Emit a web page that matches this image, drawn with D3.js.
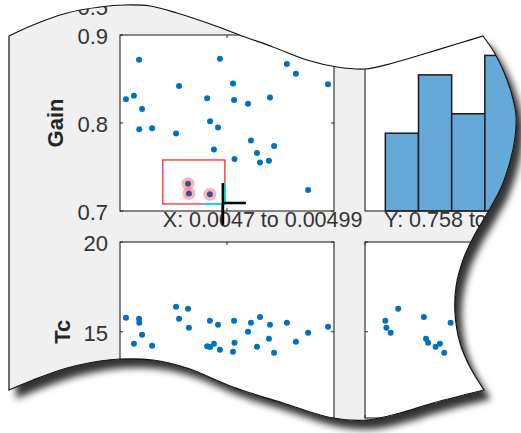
<!DOCTYPE html>
<html><head><meta charset="utf-8">
<script src="https://cdn.jsdelivr.net/npm/d3@7"></script>
<style>
html,body{margin:0;padding:0;background:#fff;}
svg{display:block;}
text{font-family:"Liberation Sans",Arial,Helvetica,sans-serif;}
</style>
</head><body><div id="chart"></div>
<script>
// ---------------- data ----------------
const xVals = [0.004528,0.004565,0.004589,0.004590,0.004603,0.004650,0.004762,0.004776,0.004818,0.004822,
               0.004907,0.004921,0.004920,0.004939,0.004958,0.004967,0.005028,0.005033,0.005035,0.005098,
               0.005112,0.005140,0.005154,0.005201,0.005196,0.005220,0.005280,0.005322,0.005379,0.005472];
const gainVals = [0.827,0.831,0.872,0.793,0.816,0.794,0.788,0.842,0.731,0.720,
                  0.828,0.802,0.719,0.770,0.795,0.873,0.845,0.826,0.759,0.822,
                  0.780,0.766,0.755,0.829,0.757,0.774,0.867,0.856,0.724,0.844];
const tcVals = [15.78,14.33,15.72,15.50,14.83,14.22,16.39,15.72,16.28,15.22,
                14.20,14.15,15.61,14.33,15.39,14.00,13.89,15.61,14.39,15.00,
                15.50,14.17,15.83,15.39,14.61,13.83,15.50,14.44,14.94,15.28];
const xDomain = [0.0045, 0.0055];
const gainDomain = [0.7, 0.9];
const tcDomain = [10.2, 20];
const gainTicks = [0.7, 0.8, 0.9];
const gainTickLabels = ["0.7", "0.8", "0.9"];
const tcTicks = [15, 20];
const tcTickLabels = ["15", "20"];
const xTicks = [0.005];
const histEdges = [0.719, 0.750, 0.781, 0.812, 0.843, 0.874];
const histCountMax = 9.05;
const rowLabels = ["Gain", "Tc"];
const selX = [0.0047, 0.00499];
const selY = [0.708, 0.758];
const cursorTexts = ["X: 0.0047 to 0.00499", "Y: 0.758 to 0.708"];
const aboveTickLabel = "0.5";

// ---------------- layout ----------------
const W = 521, H = 433;
const colX = [120, 365], colW = 214;
const rowY = [35, 242], rowH = 176;
const blue = "#0072BD", ink = "#262626";

const svg = d3.select("#chart").append("svg").attr("width", W).attr("height", H);
svg.append("rect").attr("width", W).attr("height", H).attr("fill", "#fff");
const defs = svg.append("defs");

// torn-edge outline (decoration)
const topEdge = [[9,36],[33,25],[67,13],[100,7],[125,5],[150,6],[177,13],[213,25],[245,37],[273,47],[307,60],[337,67],[365,69],[393,63],[427,53],[460,43],[483,36]];
const rightEdge = [[483,36],[494,52],[504,72],[512,95],[516,115],[515,138],[510,162],[501,188],[488,212],[474,236],[463,260],[456,287],[455,313],[460,343],[470,367],[484,390]];
const bottomEdge = [[484,390],[433,403],[400,413],[367,420],[333,418],[283,403],[233,387],[187,368],[153,360],[120,359],[100,361],[67,368],[33,380],[9,390]];
const lg = d3.line().curve(d3.curveCatmullRom.alpha(0.5));
const outlineD = lg(topEdge) + lg(rightEdge).replace(/^M/, "L") + lg(bottomEdge).replace(/^M/, "L") + "Z";

defs.append("clipPath").attr("id", "tear").append("path").attr("d", outlineD);
const f = defs.append("filter").attr("id", "shadow").attr("x", "-10%").attr("y", "-10%").attr("width", "130%").attr("height", "130%");
f.append("feGaussianBlur").attr("in", "SourceAlpha").attr("stdDeviation", 3.5).attr("result", "bl");
f.append("feOffset").attr("in", "bl").attr("dx", 7).attr("dy", 9).attr("result", "off");
f.append("feFlood").attr("flood-color", "#000").attr("flood-opacity", 0.8).attr("result", "fl");
f.append("feComposite").attr("in", "fl").attr("in2", "off").attr("operator", "in").attr("result", "sh");
const fm = f.append("feMerge");
fm.append("feMergeNode").attr("in", "sh");
fm.append("feMergeNode").attr("in", "SourceGraphic");

svg.append("path").attr("d", outlineD).attr("fill", "#f0f0f0").attr("filter", "url(#shadow)");

const g = svg.append("g").attr("clip-path", "url(#tear)");

// scales
const xS = d3.scaleLinear().domain(xDomain).range([colX[0], colX[0] + colW]);
const gainXS = d3.scaleLinear().domain(gainDomain).range([colX[1], colX[1] + colW]);
const gainYS = d3.scaleLinear().domain(gainDomain).range([rowY[0] + rowH, rowY[0]]);
const tcYS = d3.scaleLinear().domain(tcDomain).range([rowY[1] + rowH, rowY[1]]);
const histYS = d3.scaleLinear().domain([0, histCountMax]).range([rowY[0] + rowH, rowY[0]]);

const data = xVals.map((x, i) => ({x, gain: gainVals[i], tc: tcVals[i]}));
data.forEach(d => { d.sel = d.x >= selX[0] && d.x <= selX[1] && d.gain >= selY[0] && d.gain <= selY[1]; });

function panel(x, y) {
  g.append("rect").attr("x", x).attr("y", y).attr("width", colW).attr("height", rowH)
    .attr("fill", "#fff");
}
function frame(x, y) {
  g.append("rect").attr("x", x).attr("y", y).attr("width", colW).attr("height", rowH)
    .attr("fill", "none").attr("stroke", ink).attr("stroke-width", 1.1);
}
function innerTicks(x, y, xs, xt, ys, yt) {
  const t = g.append("g").attr("stroke", ink).attr("stroke-width", 1);
  if (xs) xt.forEach(v => {
    t.append("line").attr("x1", xs(v)).attr("x2", xs(v)).attr("y1", y + rowH).attr("y2", y + rowH - 3);
    t.append("line").attr("x1", xs(v)).attr("x2", xs(v)).attr("y1", y).attr("y2", y + 3);
  });
  if (ys) yt.forEach(v => {
    t.append("line").attr("x1", x).attr("x2", x + 3).attr("y1", ys(v)).attr("y2", ys(v));
    t.append("line").attr("x1", x + colW).attr("x2", x + colW - 3).attr("y1", ys(v)).attr("y2", ys(v));
  });
}

// panels
panel(colX[0], rowY[0]); panel(colX[1], rowY[0]); panel(colX[0], rowY[1]); panel(colX[1], rowY[1]);

// top-left: Gain vs X
g.append("g").selectAll("circle").data(data.filter(d => !d.sel)).join("circle")
  .attr("cx", d => xS(d.x)).attr("cy", d => gainYS(d.gain)).attr("r", 3).attr("fill", blue);
const sg = g.append("g");
sg.selectAll("circle.h").data(data.filter(d => d.sel)).join("circle").attr("class", "h")
  .attr("cx", d => xS(d.x)).attr("cy", d => gainYS(d.gain)).attr("r", 6.5)
  .attr("fill", "#f0606a").attr("fill-opacity", 0.45);
sg.selectAll("circle.c").data(data.filter(d => d.sel)).join("circle").attr("class", "c")
  .attr("cx", d => xS(d.x)).attr("cy", d => gainYS(d.gain)).attr("r", 3).attr("fill", "#4b4a8c");

// brush rectangle
const bx0 = xS(selX[0]), bx1 = xS(selX[1]), by0 = gainYS(selY[1]), by1 = gainYS(selY[0]);
g.append("rect").attr("x", bx0).attr("y", by0).attr("width", bx1 - bx0).attr("height", by1 - by0)
  .attr("fill", "none").attr("stroke", "#ff2a2a").attr("stroke-width", 1.3);
g.append("path").attr("d", `M${bx1},${by1 - 21}V${by1}H${bx1 - 22}`)
  .attr("fill", "none").attr("stroke", "#00e0e8").attr("stroke-width", 2);
g.append("path").attr("d", `M${bx1 - 2},${by1 - 21}V${by1 + 21}M${bx1 - 2},${by1 - 1}H${bx1 + 21}`)
  .attr("fill", "none").attr("stroke", "#000").attr("stroke-width", 2.5);

// top-right: histogram of Gain
const bins = d3.bin().domain([histEdges[0], histEdges[histEdges.length - 1]])
  .thresholds(histEdges.slice(1, -1))(gainVals);
g.append("g").selectAll("rect").data(bins).join("rect")
  .attr("x", d => gainXS(d.x0)).attr("width", d => gainXS(d.x1) - gainXS(d.x0))
  .attr("y", d => histYS(d.length)).attr("height", d => histYS(0) - histYS(d.length))
  .attr("fill", "#64a9d7").attr("stroke", "#1a1a1a").attr("stroke-width", 1.5);

// bottom-left: Tc vs X
g.append("g").selectAll("circle").data(data).join("circle")
  .attr("cx", d => xS(d.x)).attr("cy", d => tcYS(d.tc)).attr("r", 3).attr("fill", blue);
// bottom-right: Tc vs Gain
g.append("g").selectAll("circle").data(data).join("circle")
  .attr("cx", d => gainXS(d.gain)).attr("cy", d => tcYS(d.tc)).attr("r", 3).attr("fill", blue);

// frames and ticks
frame(colX[0], rowY[0]); frame(colX[1], rowY[0]); frame(colX[0], rowY[1]); frame(colX[1], rowY[1]);
innerTicks(colX[0], rowY[0], xS, xTicks, gainYS, gainTicks);
innerTicks(colX[0], rowY[1], xS, xTicks, tcYS, tcTicks);
innerTicks(colX[1], rowY[1], gainXS, gainTicks, tcYS, tcTicks);

// tick labels
const tl = g.append("g").attr("font-size", 22).attr("fill", "#333").attr("text-anchor", "end");
gainTicks.forEach((v, i) => tl.append("text").attr("x", colX[0] - 12).attr("y", gainYS(v) + 9).text(gainTickLabels[i]));
tcTicks.forEach((v, i) => tl.append("text").attr("x", colX[0] - 12).attr("y", tcYS(v) + 9).text(tcTickLabels[i]));
tl.append("text").attr("x", colX[0] - 12).attr("y", rowY[0] - 31 + 11).text(aboveTickLabel);

// row labels
const labX = [63, 70];
const labY = [gainYS(0.8), tcYS(15)];
rowLabels.forEach((t, i) => g.append("text")
  .attr("transform", `translate(${labX[i]},${labY[i]}) rotate(-90)`)
  .attr("text-anchor", "middle").attr("font-size", 22).attr("font-weight", "bold")
  .attr("fill", "#262626").text(t));

// brush readout
const ct = g.append("g").attr("font-size", 21.5).attr("fill", "#333");
ct.append("text").attr("x", bx0).attr("y", rowY[0] + rowH + 16).text(cursorTexts[0]);
ct.append("text").attr("x", colX[1] + 19).attr("y", rowY[0] + rowH + 16).text(cursorTexts[1]);
// black handle line over the text
g.append("line").attr("x1", bx1 - 2).attr("x2", bx1 - 2).attr("y1", by1).attr("y2", by1 + 21)
  .attr("stroke", "#000").attr("stroke-width", 2.5);

// outline
svg.append("path").attr("d", outlineD).attr("fill", "none").attr("stroke", "#111").attr("stroke-width", 1.2);
</script>
</body></html>
